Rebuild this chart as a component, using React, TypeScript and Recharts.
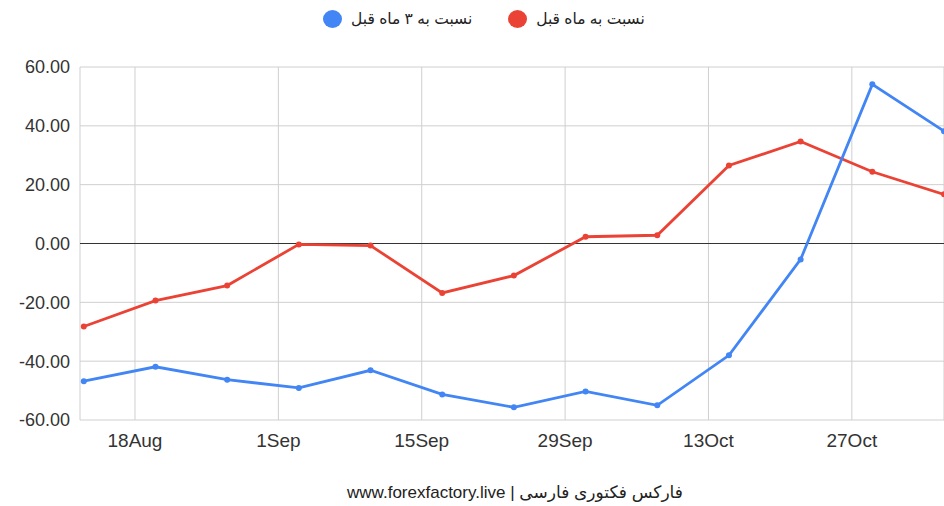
import {
  LineChart,
  Line,
  XAxis,
  YAxis,
  CartesianGrid,
  ReferenceLine,
} from 'recharts'

// days counted from 13 Aug, one point a week
const days = [0, 7, 14, 21, 28, 35, 42, 49, 56, 63, 70, 77, 84]
const vsLastMonth = [-28.2, -19.4, -14.3, -0.3, -0.7, -16.8, -10.9, 2.3, 2.8, 26.5, 34.7, 24.4, 16.7]
const vs3MonthsAgo = [-46.8, -41.9, -46.3, -49.1, -43.1, -51.3, -55.7, -50.3, -55.0, -38.0, -5.4, 54.1, 38.2]

const xTicks = [5, 19, 33, 47, 61, 75]
const xTickLabels = ['18Aug', '1Sep', '15Sep', '29Sep', '13Oct', '27Oct']
const yTicks = [-60, -40, -20, 0, 20, 40, 60]

const RED = '#ea4335'
const BLUE = '#4285f4'
const FONT = '"Liberation Sans", "DejaVu Sans", Arial, sans-serif'

const data = days.map((d, i) => ({
  day: d,
  month: vsLastMonth[i],
  threeMonths: vs3MonthsAgo[i],
}))

function LegendItem({ color, label }: { color: string; label: string }) {
  return (
    <div style={{ display: 'flex', alignItems: 'center', gap: 9 }}>
      <span
        style={{
          width: 19,
          height: 18,
          borderRadius: '50%',
          background: color,
          display: 'inline-block',
        }}
      />
      <span style={{ fontSize: 15.5, color: '#222' }}>{label}</span>
    </div>
  )
}

export default function App() {
  return (
    <div
      style={{
        position: 'absolute',
        left: 0,
        top: 0,
        width: 944,
        height: 506,
        overflow: 'hidden',
        background: '#fff',
        fontFamily: FONT,
      }}
    >
      <div
        style={{
          position: 'absolute',
          left: 323,
          top: 10,
          display: 'flex',
          gap: 36,
        }}
      >
        <LegendItem color={BLUE} label="نسبت به ۳ ماه قبل" />
        <LegendItem color={RED} label="نسبت به ماه قبل" />
      </div>

      <LineChart
        width={944}
        height={506}
        data={data}
        margin={{ top: 67, right: 0, bottom: 56, left: 0 }}
      >
        <CartesianGrid stroke="#cfcfcf" strokeWidth={1} />
        <XAxis
          dataKey="day"
          type="number"
          domain={[-0.37, 84]}
          ticks={xTicks}
          tickFormatter={(v: number) => xTickLabels[xTicks.indexOf(v)]}
          axisLine={false}
          tickLine={false}
          tickMargin={8}
          height={30}
          tick={{ fontSize: 19, fill: '#333', fontFamily: FONT }}
        />
        <YAxis
          domain={[-60, 60]}
          ticks={yTicks}
          tickFormatter={(v: number) => v.toFixed(2)}
          axisLine={false}
          tickLine={false}
          tickMargin={4}
          width={80}
          tick={{ fontSize: 18, fill: '#333', fontFamily: FONT }}
        />
        <ReferenceLine y={0} stroke="#333" strokeWidth={1} />
        <Line
          dataKey="month"
          stroke={RED}
          strokeWidth={2.8}
          dot={{ r: 3, fill: RED, stroke: RED, strokeWidth: 0 }}
          isAnimationActive={false}
        />
        <Line
          dataKey="threeMonths"
          stroke={BLUE}
          strokeWidth={2.8}
          dot={{ r: 3, fill: BLUE, stroke: BLUE, strokeWidth: 0 }}
          isAnimationActive={false}
        />
      </LineChart>

      <div
        style={{
          position: 'absolute',
          left: 0,
          width: 1030,
          top: 482,
          textAlign: 'center',
          fontSize: 17,
          color: '#222',
        }}
      >
        www.forexfactory.live | فارکس فکتوری فارسی
      </div>
    </div>
  )
}
